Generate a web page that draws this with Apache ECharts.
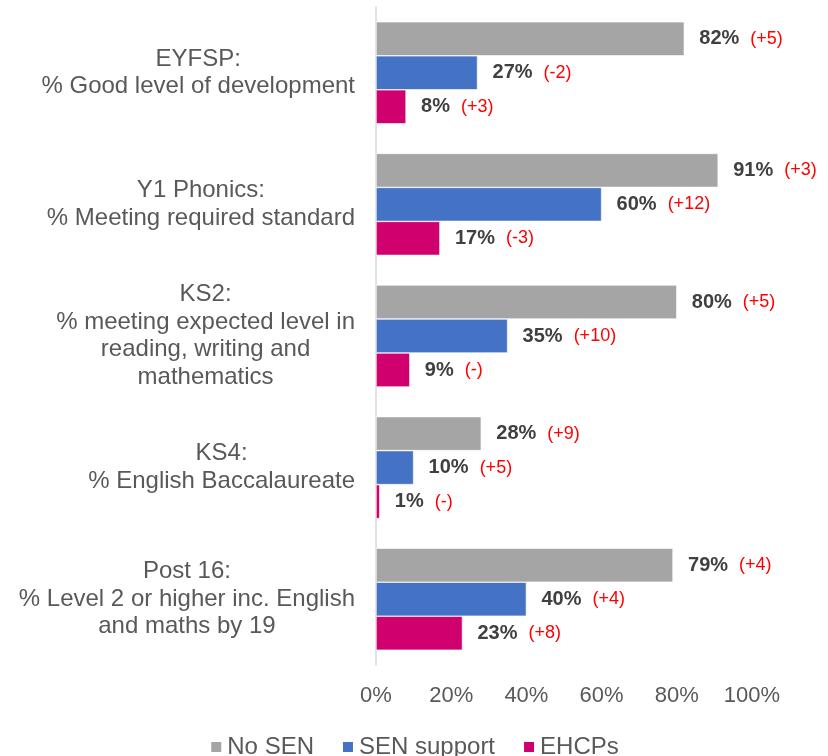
<!DOCTYPE html>
<html>
<head>
<meta charset="utf-8">
<script src="https://cdn.jsdelivr.net/npm/echarts@6/dist/echarts.min.js"></script>
<style>
  html, body { margin: 0; padding: 0; background: #fff; }
  #chart { width: 828px; height: 756px; }
</style>
</head>
<body>
<div id="chart"></div>
<script>
var categories = [
	'EYFSP:\n% Good level of development',
	'Y1 Phonics:\n% Meeting required standard',
	'KS2:\n% meeting expected level in\nreading, writing and\nmathematics',
	'KS4:\n% English Baccalaureate',
	'Post 16:\n% Level 2 or higher inc. English\nand maths by 19'
];
var seriesNames = ['No SEN', 'SEN support', 'EHCPs'];
var noSen = [82, 91, 80, 28, 79];
var senSupport = [27, 60, 35, 10, 40];
var ehcps = [8, 17, 9, 1, 23];
var noSenChange = ['+5', '+3', '+5', '+9', '+4'];
var senSupportChange = ['-2', '+12', '+10', '+5', '+4'];
var ehcpsChange = ['+3', '-3', '-', '-', '+8'];
var xTicks = [0, 20, 40, 60, 80, 100];

const colorList = ['#A5A5A5', '#4472C4', '#D0006F'];
var FONT = '"Liberation Sans", Arial, sans-serif';

var chart = echarts.init(document.getElementById('chart'));

function makeSeries(name, values, changes, color) {
	return {
		name: name,
		type: 'bar',
		data: values,
		barWidth: 34,
		barGap: '0%',
		itemStyle: { color: color, borderColor: '#ffffff', borderWidth: 0.6 },
		label: {
			show: true,
			position: 'right',
			distance: 15,
			formatter: function (p) {
				return '{v|' + p.value + '%}{c|(' + changes[p.dataIndex] + ')}';
			},
			rich: {
				v: { fontFamily: FONT, fontSize: 20, fontWeight: 'bold', color: '#404040' },
				c: { fontFamily: FONT, fontSize: 18, color: '#FF0000', padding: [0, 0, 0, 11] }
			}
		}
	};
}

var option = {
	color: colorList,
	animation: false,
	grid: { left: 376, right: 76, top: 7, bottom: 91 },
	legend: {
		data: seriesNames,
		top: 730,
		left: 'center',
		icon: 'rect',
		itemWidth: 12,
		itemHeight: 12,
		itemGap: 27,
		textStyle: { fontFamily: FONT, fontSize: 24, color: '#595959', padding: [0, 0, 0, 0] }
	},
	xAxis: {
		type: 'value',
		min: 0,
		max: 100,
		interval: 20,
		axisLine: { show: false },
		axisTick: { show: false },
		splitLine: { show: false },
		axisLabel: {
			margin: 20,
			fontFamily: FONT,
			fontSize: 22,
			color: '#595959',
			formatter: function (v) { return xTicks.indexOf(v) >= 0 ? v + '%' : ''; }
		}
	},
	yAxis: {
		type: 'category',
		inverse: true,
		data: categories,
		axisTick: { show: false },
		axisLine: { show: true, lineStyle: { color: '#D9D9D9', width: 1.5 } },
		axisLabel: {
			margin: 21,
			formatter: function (v) {
				return v.split('\n').map(function (s) { return '{t|' + s + '}'; }).join('\n');
			},
			rich: {
				t: { fontFamily: FONT, fontSize: 24, color: '#595959', lineHeight: 27.5, align: 'center' }
			}
		}
	},
	series: [
		makeSeries(seriesNames[0], noSen, noSenChange, colorList[0]),
		makeSeries(seriesNames[1], senSupport, senSupportChange, colorList[1]),
		makeSeries(seriesNames[2], ehcps, ehcpsChange, colorList[2])
	]
};

chart.setOption(option);
window.onresize = function () { chart.resize(); };
</script>
</body>
</html>
